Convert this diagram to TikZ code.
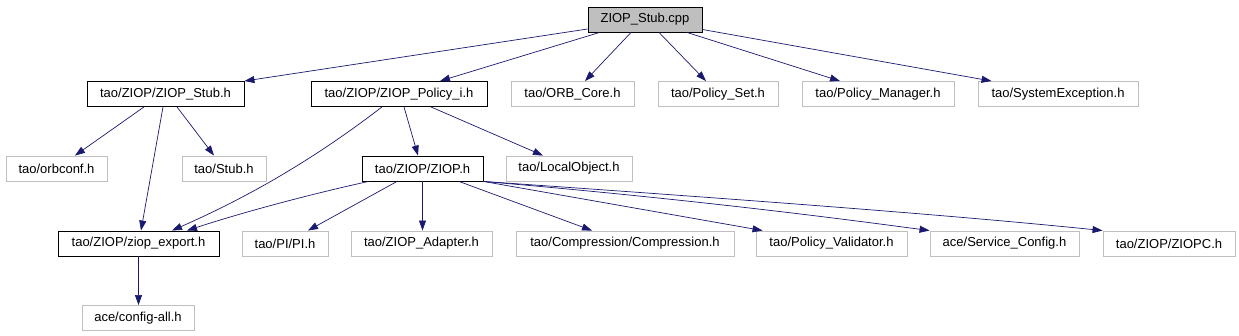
\documentclass[tikz,border=0pt]{standalone}
\usepackage{fontspec}
\setmainfont{Liberation Sans}
\usetikzlibrary{arrows.meta}
\definecolor{edgeblue}{HTML}{191970}
\definecolor{boxgray}{HTML}{BFBFBF}
\begin{document}
\begin{tikzpicture}[x=1pt,y=-1pt,
		file/.style={draw=black,line width=0.9pt,minimum height=25pt,inner sep=0pt,font=\fontsize{13}{15}\selectfont},
		sysfile/.style={file,draw=boxgray},
		dep/.style={draw=edgeblue,line width=0.7pt,-{Triangle[length=10pt,width=7pt]}}]
		\useasboundingbox (0,0) rectangle (1239,336);

		\node[file,fill=boxgray,minimum width=114pt] (root) at (645,19.5) {ZIOP\_Stub.cpp};

		\node[file,minimum width=157pt] (stubh) at (165.5,94) {tao/ZIOP/ZIOP\_Stub.h};
		\node[file,minimum width=176pt] (policyi) at (399,94) {tao/ZIOP/ZIOP\_Policy\_i.h};
		\node[sysfile,minimum width=123pt] (orbcore) at (572.5,94) {tao/ORB\_Core.h};
		\node[sysfile,minimum width=120pt] (policyset) at (718,94) {tao/Policy\_Set.h};
		\node[sysfile,minimum width=152pt] (policymgr) at (878,94) {tao/Policy\_Manager.h};
		\node[sysfile,minimum width=160pt] (sysexc) at (1058,94) {tao/SystemException.h};

		\node[sysfile,minimum width=101pt] (orbconf) at (56.5,168.5) {tao/orbconf.h};
		\node[sysfile,minimum width=84pt] (stub) at (224,168.5) {tao/Stub.h};
		\node[file,minimum width=121pt] (ziop) at (422.5,168.5) {tao/ZIOP/ZIOP.h};
		\node[sysfile,minimum width=126pt] (localobj) at (569,168.5) {tao/LocalObject.h};

		\node[file,minimum width=161pt] (ziopexport) at (138.5,243.5) {tao/ZIOP/ziop\_export.h};
		\node[sysfile,minimum width=86pt] (pi) at (285,243.5) {tao/PI/PI.h};
		\node[sysfile,minimum width=141pt] (adapter) at (421.5,243.5) {tao/ZIOP\_Adapter.h};
		\node[sysfile,minimum width=218pt] (compression) at (625,243.5) {tao/Compression/Compression.h};
		\node[sysfile,minimum width=151pt] (validator) at (831.5,243.5) {tao/Policy\_Validator.h};
		\node[sysfile,minimum width=149pt] (svcconf) at (1004.5,243.5) {ace/Service\_Config.h};
		\node[sysfile,minimum width=132pt] (ziopc) at (1169,243.5) {tao/ZIOP/ZIOPC.h};

		\node[sysfile,minimum width=112pt] (configall) at (138,318) {ace/config-all.h};

		\draw[dep] ([yshift=-9.5pt]root.west) -- (stubh.north east);
		\draw[dep] ([xshift=12pt]root.south west) -- ([xshift=41pt]policyi.north);
		\draw[dep] ([xshift=-14pt]root.south) -- ([xshift=12.5pt]orbcore.north);
		\draw[dep] ([xshift=14pt]root.south) -- ([xshift=-12pt]policyset.north);
		\draw[dep] ([xshift=42pt]root.south) -- ([xshift=-38pt]policymgr.north);
		\draw[dep] ([yshift=-10pt]root.east) -- ([xshift=14pt]sysexc.north west);

		\draw[dep] ([xshift=-21.5pt]stubh.south) -- ([xshift=18.5pt]orbconf.north);
		\draw[dep] ([xshift=-2.5pt]stubh.south) -- ([xshift=2.5pt]ziopexport.north);
		\draw[dep] ([xshift=11.5pt]stubh.south) -- ([xshift=-10pt]stub.north);

		\draw[dep] ([xshift=-17pt]policyi.south) .. controls (300,170) and (230,205) .. ([xshift=33.5pt]ziopexport.north);
		\draw[dep] ([xshift=5pt]policyi.south) -- ([xshift=-4.5pt]ziop.north);
		\draw[dep] ([xshift=32pt]policyi.south) -- ([xshift=-26pt]localobj.north);

		\draw[dep] ([xshift=7pt]ziop.south west) .. controls (320,192) and (250,210) .. ([xshift=48.5pt]ziopexport.north);
		\draw[dep] ([xshift=-25.5pt]ziop.south) -- ([xshift=23pt]pi.north);
		\draw[dep] (ziop.south) -- (ziop.south |- adapter.north);
		\draw[dep] ([xshift=36.5pt]ziop.south) -- ([xshift=-33pt]compression.north);
		\draw[dep] (ziop.south east) -- ([xshift=7pt]validator.north west);
		\draw[dep] (ziop.south east) .. controls (700,200) and (850,220) .. (svcconf.north west);
		\draw[dep] (ziop.south east) .. controls (750,200) and (950,215) .. (ziopc.north west);

		\draw[dep] (ziopexport.south) -- (ziopexport.south |- configall.north);
	\end{tikzpicture}
\end{document}
